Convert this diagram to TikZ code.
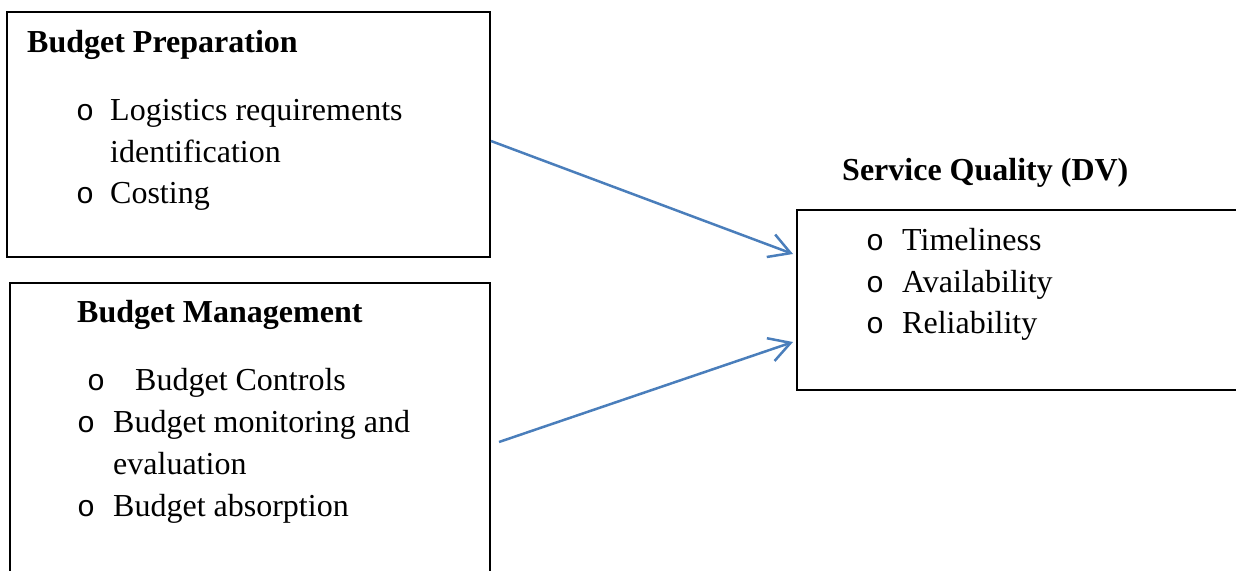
\documentclass[tikz,border=0pt]{standalone}
\usepackage{fontspec}
\setmainfont{Liberation Serif}
\newfontfamily\bulletfont{Liberation Mono}
\usetikzlibrary{arrows.meta,calc}
\definecolor{arrblue}{RGB}{74,126,187}
\tikzset{
  box/.style={draw=black, line width=2pt, rectangle, inner sep=0pt, anchor=north west},
  txt/.style={inner sep=0pt, anchor=base west, font=\fontsize{32pt}{42pt}\selectfont},
  ttl/.style={inner sep=0pt, anchor=base west, font=\fontsize{32pt}{42pt}\selectfont\bfseries},
  blt/.style={inner sep=0pt, anchor=base west, font=\fontsize{30pt}{42pt}\bulletfont},
  arr/.style={draw=arrblue, line width=2.5pt, -{Straight Barb[length=21pt,width=24pt,line width=2.5pt]}}
}
\begin{document}
\begin{tikzpicture}[x=1pt,y=-1pt]
\useasboundingbox (0,0) rectangle (1236,570);
% boxes
\node[box, minimum width=483pt, minimum height=245pt] (b1) at (6,11) {};
\node[box, minimum width=480pt, minimum height=300pt] (b2) at (9,282) {};
\node[box, minimum width=460pt, minimum height=180pt] (b3) at (796,209) {};
% box 1 text
\node[ttl] (t1) at (27,52) {Budget Preparation};
\node[blt] (o11) at (76,120) {o};
\node[txt] (l11) at (110,120) {Logistics requirements};
\node[txt] (l12) at (110,162) {identification};
\node[blt] (o12) at (76,203) {o};
\node[txt] (l13) at (110,203) {Costing};
% box 2 text
\node[ttl] (t2) at (77,322) {Budget Management};
\node[blt] (o21) at (87,390) {o};
\node[txt] (l21) at (135,390) {Budget Controls};
\node[blt] (o22) at (77,432) {o};
\node[txt] (l22) at (113,432) {Budget monitoring and};
\node[txt] (l23) at (113,474) {evaluation};
\node[blt] (o24) at (77,516) {o};
\node[txt] (l24) at (113,516) {Budget absorption};
% box 3 text
\node[ttl] (t3) at (842,180) {Service Quality (DV)};
\node[blt] (o31) at (866,250) {o};
\node[txt] (l31) at (902,250) {Timeliness};
\node[blt] (o32) at (866,292) {o};
\node[txt] (l32) at (902,292) {Availability};
\node[blt] (o33) at (866,333) {o};
\node[txt] (l33) at (902,333) {Reliability};
% arrows
\coordinate (s1) at ($(b1.north east)+(0,130)$);
\coordinate (e1) at ($(b3.north west)+(-3,45)$);
\coordinate (s2) at (499,442);
\coordinate (e2) at ($(b3.north west)+(-3,133)$);
\draw[arr] (s1) -- (e1);
\draw[arr] (s2) -- (e2);
\end{tikzpicture}
\end{document}
